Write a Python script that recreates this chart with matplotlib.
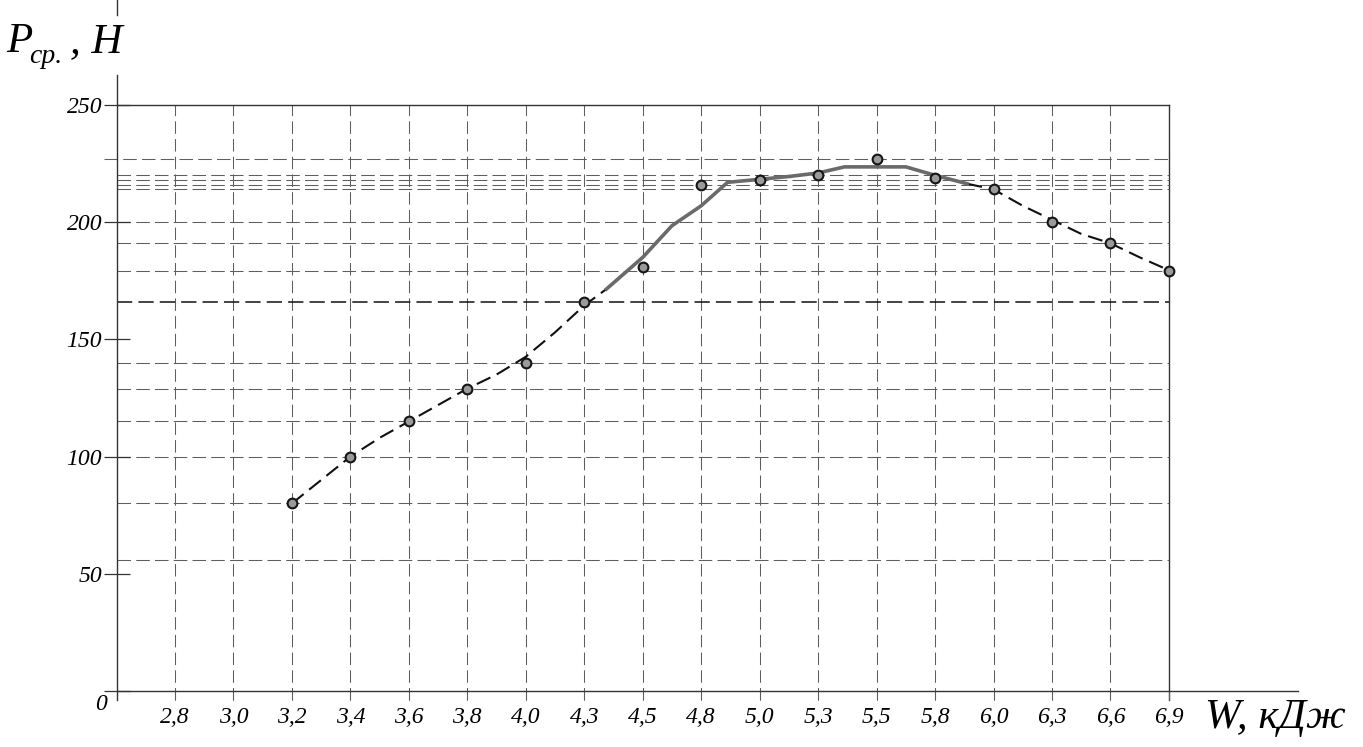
import matplotlib
matplotlib.use("Agg")
import matplotlib.pyplot as plt

# ---------------- data ----------------
x_labels = ['2,8', '3,0', '3,2', '3,4', '3,6', '3,8', '4,0', '4,3', '4,5',
            '4,8', '5,0', '5,3', '5,5', '5,8', '6,0', '6,3', '6,6', '6,9']
y_ticks = [0, 50, 100, 150, 200, 250]

# measured points (x given as label index)
point_idx = [2, 3, 4, 5, 6, 7, 8, 9, 10, 11, 12, 13, 14, 15, 16, 17]
point_val = [80, 100, 115, 129, 140, 166, 181, 216, 218, 220, 227, 219, 214, 200, 191, 179]

# approximating curve: dashed part (low W)
fit1_idx = [2.0, 2.5, 3.0, 3.5, 4.0, 4.5, 5.0, 5.5, 6.0, 6.5, 7.0, 7.38]
fit1_val = [80, 90, 100, 108, 115, 122, 129, 135, 142.6, 153, 164.5, 171.5]
# solid grey part (optimum zone)
fit2_idx = [7.38, 8.0, 8.5, 9.0, 9.45, 10.0, 10.5, 11.0, 11.45, 12.5, 13.0, 13.55]
fit2_val = [171.5, 185, 198.5, 207, 217, 218.3, 219.5, 221, 223.6, 223.6, 220, 216.4]
# dashed part (high W)
fit3_idx = [13.55, 14.0, 14.5, 15.0, 15.5, 16.0, 16.5, 17.0]
fit3_val = [216.4, 214, 207, 201, 195, 191, 185, 179.5]

# horizontal helper lines
hgrid_vals = [56, 80, 100, 115, 129, 140, 179, 191, 200, 214, 216, 218, 220, 227]
hgrid_dark = [166]

# ---------------- figure ----------------
W, H = 1363, 747
fig = plt.figure(figsize=(W / 100, H / 100), dpi=100)
px_per_unit = 586 / 250.0
ax = fig.add_axes([116.5 / W, 56 / H, 1181.1 / W, 691 / H])
ax.set_xlim(-1, 19.2)
ax.set_ylim(0, 691 / px_per_unit)

serif = 'Liberation Serif'
grid_c = '#5e5e5e'
axis_c = '#333333'

for s in ['top', 'right']:
    ax.spines[s].set_visible(False)
ax.spines['left'].set_bounds(-3.8, 262.8)
ax.spines['bottom'].set_bounds(-1, 19.2)
for s in ['left', 'bottom']:
    ax.spines[s].set_color(axis_c)
    ax.spines[s].set_linewidth(1.0)

# extra top fragment of the y axis
ax.plot([-1, -1], [288.4, 294.8], color=axis_c, lw=1.0, clip_on=False)

# vertical grid lines
n = len(x_labels)
for i in range(n - 1):
    ax.plot([i, i], [-3.8, 250], color=grid_c, lw=0.75,
            linestyle=(0, (12, 5)), clip_on=False, zorder=1)
# right border & top border (solid)
ax.plot([n - 1, n - 1], [-3.8, 250], color=axis_c, lw=1.0, clip_on=False, zorder=1)
ax.plot([-1, n - 1], [250, 250], color=axis_c, lw=1.0, clip_on=False, zorder=1)

# horizontal grid lines
for v in hgrid_vals:
    x0 = -1.22 if v == max(hgrid_vals) else -1
    ax.plot([x0, n - 1], [v, v], color=grid_c, lw=0.75,
            linestyle=(0, (13, 5)), zorder=1, clip_on=False)
for v in hgrid_dark:
    ax.plot([-1, n - 1], [v, v], color='#111111', lw=1.1,
            linestyle=(0, (10, 4)), zorder=1)

# curve
dash = (0, (7.2, 3.4))
ax.plot(fit1_idx, fit1_val, color='#111111', lw=1.5, linestyle=dash, zorder=3)
ax.plot(fit3_idx, fit3_val, color='#111111', lw=1.5, linestyle=dash, zorder=3)
ax.plot(fit2_idx, fit2_val, color='#6a6a6a', lw=2.6, solid_joinstyle='miter', zorder=3)

# points
ax.plot(point_idx, point_val, linestyle='none', marker='o', markersize=7,
        markerfacecolor='#9a9a9a', markeredgecolor='#151515', markeredgewidth=1.5,
        zorder=4)

# ticks
ax.set_xticks(range(n))
ax.set_xticklabels(x_labels, fontfamily=serif, fontstyle='italic', fontsize=17)
ax.tick_params(axis='x', direction='out', length=6.5, width=0.75, color=grid_c, pad=5)

ax.set_yticks(y_ticks)
ax.set_yticklabels([''] + [str(v) for v in y_ticks[1:]],
                   fontfamily=serif, fontstyle='italic', fontsize=17)
ax.tick_params(axis='y', direction='inout', length=18.7, width=0.9, color=axis_c, pad=1)

def ftext(x, y, s, **kw):
    fig.text(x / W, 1 - y / H, s, **kw)

ftext(107, 705, '0', ha='right', va='center', fontfamily=serif, fontstyle='italic', fontsize=17)

# axis titles
ftext(1205, 728, 'W, кДж', ha='left', va='baseline', fontfamily=serif,
      fontstyle='italic', fontsize=31)
ftext(6, 52, 'P', ha='left', va='baseline', fontfamily=serif, fontstyle='italic', fontsize=31)
ftext(29, 63, 'ср.', ha='left', va='baseline', fontfamily=serif, fontstyle='italic', fontsize=20)
ftext(70, 52, ', H', ha='left', va='baseline', fontfamily=serif, fontstyle='italic', fontsize=31,
      bbox=dict(facecolor='white', edgecolor='none', pad=0))

fig.savefig('out.png', dpi=100)
